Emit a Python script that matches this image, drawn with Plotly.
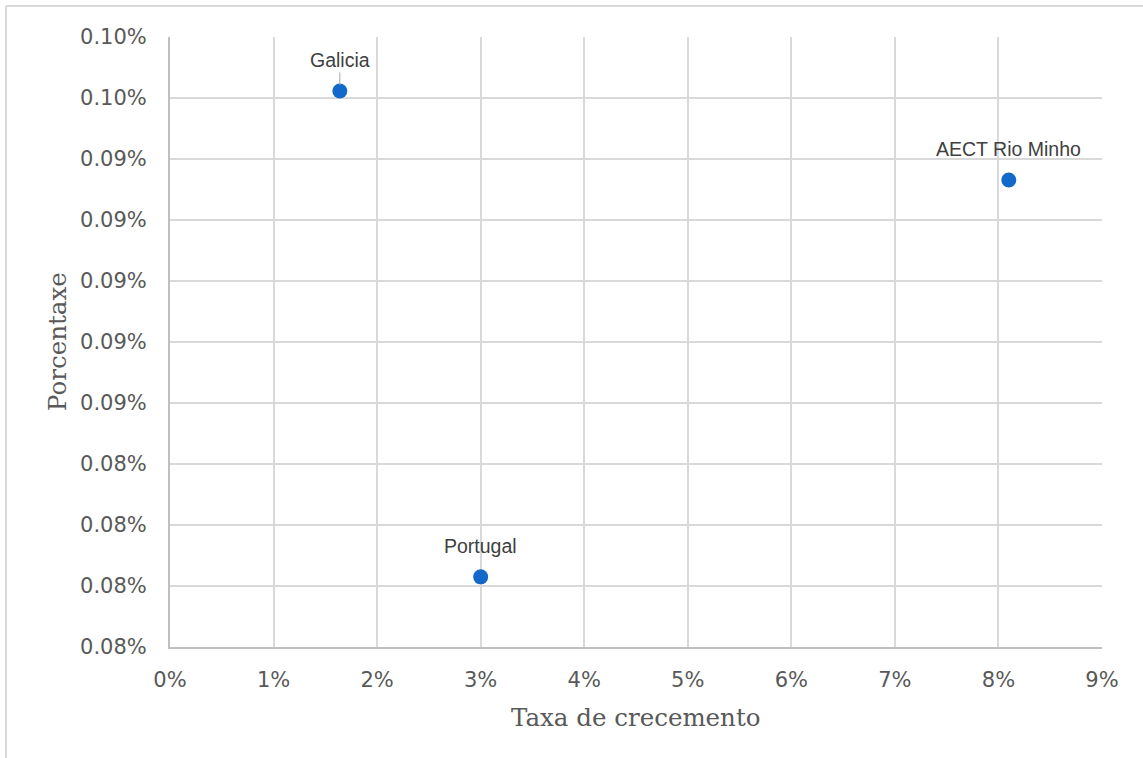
import plotly.graph_objects as go

names = ["Galicia", "Portugal", "AECT Rio Minho"]
growth = [0.0164, 0.0300, 0.0810]          # Taxa de crecemento
share = [0.0009623, 0.0008030, 0.0009331]  # Porcentaxe

x_ticks = [i / 100 for i in range(0, 10)]
y_ticks = [0.00078 + 0.00002 * i for i in range(11)]

L, R, T, B = 170, 41, 37, 111
W, H = 1143, 758
pw, ph = W - L - R, H - T - B

fig = go.Figure()
fig.add_trace(go.Scatter(
    x=growth, y=share, mode="markers",
    marker=dict(size=15, color="#1369c9"),
    hoverinfo="skip", showlegend=False,
))

lab_font = dict(family="Liberation Sans", size=19.5, color="#404040")
ann = []
for n, gx, sy in zip(names, growth, share):
    if n == "Galicia":
        ann.append(dict(x=gx, y=sy, text=n, showarrow=True, arrowhead=0,
                        arrowwidth=1, arrowcolor="#a6a6a6", ax=0, ay=-31,
                        standoff=6, font=lab_font))
    else:
        ann.append(dict(x=gx, y=sy, text=n, showarrow=False, yshift=31,
                        font=lab_font))

title_font = dict(family="DejaVu Serif", size=24.5, color="#595959")
ann.append(dict(text="Taxa de crecemento", xref="paper", yref="paper",
                x=0.5, y=(H - 718 - B) / ph, yanchor="middle", showarrow=False,
                font=title_font))
ann.append(dict(text="Porcentaxe", xref="paper", yref="paper",
                x=(57 - L) / pw, y=0.5, xanchor="center", textangle=-90, showarrow=False,
                font=title_font))

fig.update_layout(
    width=W, height=H,
    margin=dict(l=L, r=R, t=T, b=B),
    paper_bgcolor="white", plot_bgcolor="white",
    annotations=ann,
    shapes=[
        dict(type="line", xref="paper", yref="paper",
             x0=(6 - L) / pw, x1=(W + 5 - L) / pw, y0=(H - B - 6) / ph, y1=(H - B - 6) / ph,
             line=dict(color="#d9d9d9", width=2)),
        dict(type="line", xref="paper", yref="paper",
             x0=(6 - L) / pw, x1=(6 - L) / pw, y0=(H - B - 6) / ph, y1=(-B - 5) / ph,
             line=dict(color="#d9d9d9", width=2)),
    ],
)
fig.update_xaxes(
    range=[0, 0.09], tickvals=x_ticks + [0.09], tickformat=".0%",
    showgrid=True, gridcolor="#d9d9d9", gridwidth=1.5,
    showline=True, linecolor="#bfbfbf", linewidth=2, mirror=False,
    zeroline=False, ticks="", ticklabelstandoff=13,
    tickfont=dict(family="DejaVu Sans", size=21, color="#595959"),
)
fig.update_yaxes(
    range=[0.00078, 0.00098], tickvals=y_ticks, tickformat=".2%",
    showgrid=True, gridcolor="#d9d9d9", gridwidth=1.5,
    showline=True, linecolor="#bfbfbf", linewidth=2,
    zeroline=False, ticks="", ticklabelstandoff=17,
    tickfont=dict(family="DejaVu Sans", size=21, color="#595959"),
)

fig.write_html("out.html", config={"displayModeBar": False},
               post_script="document.body.style.margin='0';")
